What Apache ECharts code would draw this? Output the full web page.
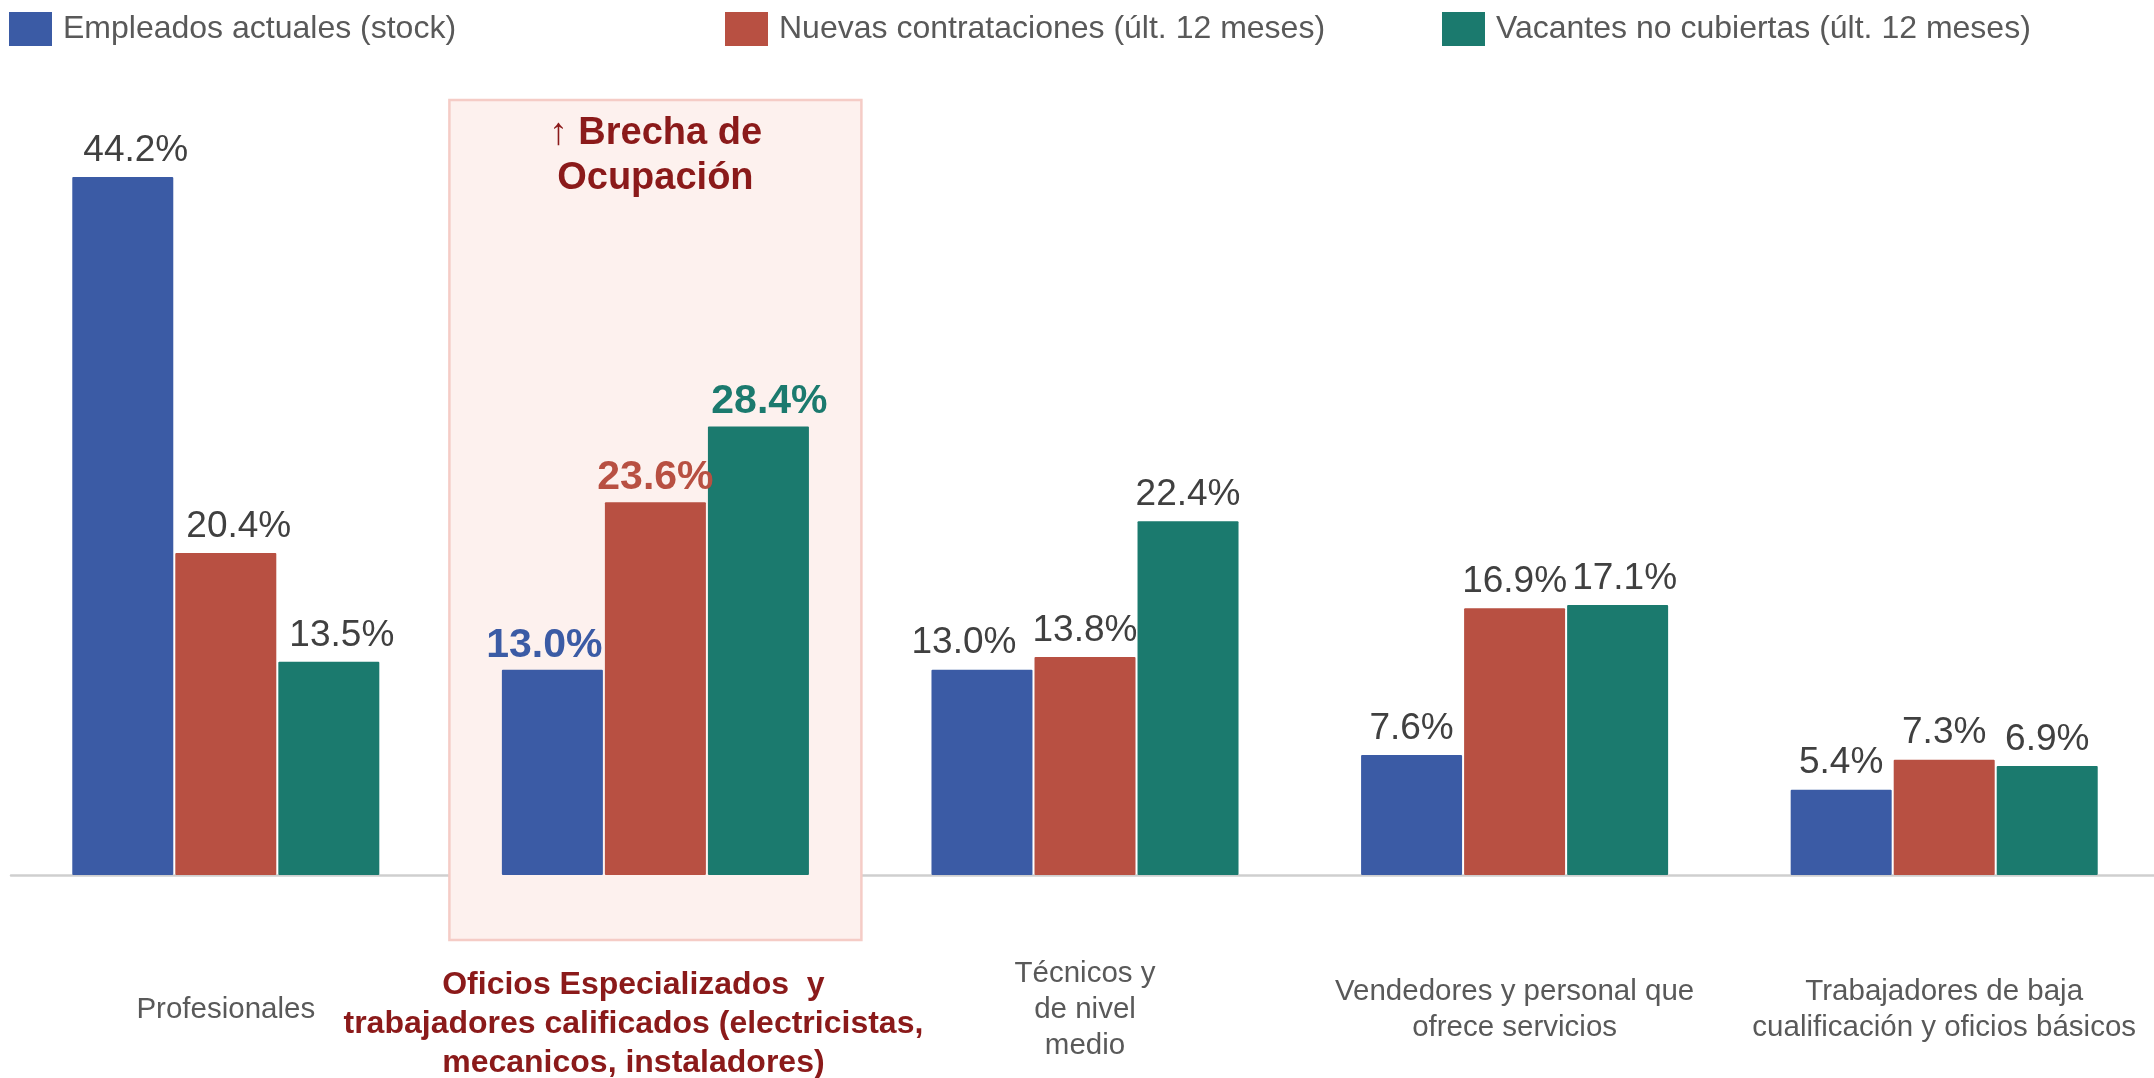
<!DOCTYPE html>
<html>
<head>
<meta charset="utf-8">
<script src="https://cdn.jsdelivr.net/npm/echarts@6/dist/echarts.min.js"></script>
<style>
  html, body { margin: 0; padding: 0; background: #fff; }
  #main { width: 2154px; height: 1078px; }
</style>
</head>
<body>
<div id="main"></div>
<script>
// categories (x axis), the highlighted one is index 1
const categories = [
    'Profesionales',
    'Oficios Especializados  y\ntrabajadores calificados (electricistas,\nmecanicos, instaladores)',
    'Técnicos y\nde nivel\nmedio',
    'Vendedores y personal que\nofrece servicios',
    'Trabajadores de baja\ncualificación y oficios básicos'
];
const highlightIndex = 1;

const seriesNames = [
    'Empleados actuales (stock)',
    'Nuevas contrataciones (últ. 12 meses)',
    'Vacantes no cubiertas (últ. 12 meses)'
];
const stockValues = [44.2, 13.0, 13.0, 7.6, 5.4];
const hiresValues = [20.4, 23.6, 13.8, 16.9, 7.3];
const vacantValues = [13.5, 28.4, 22.4, 17.1, 6.9];

const colors = ['#3b5ba5', '#b85042', '#1b7a6e'];
const font = '"Liberation Sans", Arial, sans-serif';
const darkRed = '#8b1a1a';

// small sideways nudges of value labels so neighbours don't touch (px, per series)
const labelNudge = [
    [13, -8, -18, 0, 0],
    [13, 0, 0, 0, 0],
    [13, 11, 0, 7, 0]
];

let chart = echarts.init(document.getElementById('main'));

function makeSeries(si, values) {
    let color = colors[si];
    return {
        name: seriesNames[si],
        type: 'bar',
        barWidth: 101,
        barGap: '2%',
        itemStyle: { color: color, borderRadius: 1 },
        label: {
            show: true,
            position: 'top',
            distance: 8,
            fontFamily: font,
            fontSize: 37,
            color: '#404040',
            formatter: p => p.value.toFixed(1) + '%'
        },
        data: values.map((v, i) => {
            let lab = { offset: [labelNudge[si][i], 0] };
            if (i === highlightIndex) {
                Object.assign(lab, { fontWeight: 'bold', fontSize: 41, color: color, distance: 4 });
            }
            return { value: v, label: lab };
        })
    };
}

let legends = seriesNames.map((n, i) => ({
    data: [n],
    left: [9, 725, 1442][i],
    top: 12,
    padding: 0,
    icon: 'rect',
    itemWidth: 43,
    itemHeight: 34,
    itemGap: 10,
    textStyle: { fontFamily: font, fontSize: 32, color: '#595959', padding: [0, 0, 0, 6] },
    selectedMode: false
}));

let option = {
    backgroundColor: '#fff',
    animation: false,
    color: colors,
    legend: legends,
    grid: { left: 11, right: -5, top: 85.5, bottom: 203, containLabel: false, outerBoundsMode: 'none' },
    xAxis: {
        type: 'category',
        z: 0,
        data: categories,
        axisLine: { lineStyle: { color: '#cfcfcf', width: 2.5 } },
        axisTick: { show: false },
        axisLabel: {
            interval: 0,
            margin: 135,
            verticalAlign: 'middle',
            fontFamily: font,
            fontSize: 29.5,
            lineHeight: 36,
            color: '#595959',
            formatter: (val, idx) => {
                if (idx !== highlightIndex) return val;
                return '{sp| }\n' + val.split('\n').map(l => '{hl|' + l + '}').join('\n');
            },
            rich: {
                sp: { fontSize: 10, lineHeight: 28 },
                hl: {
                    fontFamily: font,
                    fontWeight: 'bold',
                    fontSize: 32,
                    lineHeight: 39,
                    color: darkRed,
                    padding: [0, 44, 0, 0]
                }
            }
        }
    },
    yAxis: {
        type: 'value',
        min: 0,
        max: 50,
        show: false,
        splitLine: { show: false }
    },
    series: [
        makeSeries(0, stockValues),
        makeSeries(1, hiresValues),
        makeSeries(2, vacantValues)
    ]
};
chart.setOption(option);

// shaded box behind the highlighted category
let cx = chart.convertToPixel({ xAxisIndex: 0 }, highlightIndex);
let baseY = chart.convertToPixel({ yAxisIndex: 0 }, 0);
chart.setOption({
    graphic: [
        {
            type: 'rect',
            z: 1,
            shape: { x: cx - 206, y: 100, width: 412, height: baseY + 65 - 100 },
            style: { fill: '#fdf1ee', stroke: '#f5ccc6', lineWidth: 2.5 }
        },
        {
            type: 'text',
            z: 3,
            x: cx,
            y: 111,
            style: {
                text: '↑ Brecha de\nOcupación',
                fontFamily: font,
                fontWeight: 'bold',
                fontSize: 38,
                lineHeight: 45,
                fill: darkRed,
                align: 'center',
                verticalAlign: 'top'
            }
        }
    ]
});
</script>
</body>
</html>
